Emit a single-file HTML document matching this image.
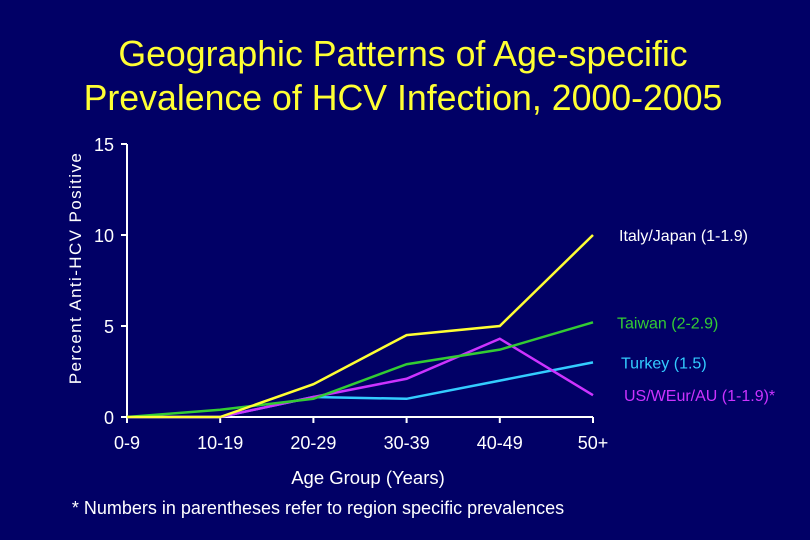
<!DOCTYPE html>
<html><head><meta charset="utf-8"><style>
html,body{margin:0;padding:0;background:#010066;}
svg{display:block;font-family:"Liberation Sans",sans-serif;}
</style></head><body>
<svg width="810" height="540">
<rect width="810" height="540" fill="#010066"/>
<text x="403" y="66" fill="#ffff33" font-size="35.7" text-anchor="middle">Geographic Patterns of Age-specific</text>
<text x="403" y="110" fill="#ffff33" font-size="35.7" text-anchor="middle">Prevalence of HCV Infection, 2000-2005</text>
<text transform="translate(81,268) rotate(-90)" fill="#fff" font-size="17" letter-spacing="1.4" text-anchor="middle">Percent Anti-HCV Positive</text>
<text x="368" y="484" fill="#fff" font-size="18.5" text-anchor="middle">Age Group (Years)</text>
<text x="318" y="514" fill="#fff" font-size="18" text-anchor="middle">* Numbers in parentheses refer to region specific prevalences</text>
<g id="axes"></g><g id="series"></g><g id="labels"></g>
</svg>
<script>
const categories=["0-9","10-19","20-29","30-39","40-49","50+"];
const yTicks=[0,5,10,15];
const italy=[0,0,1.8,4.5,5,10];
const taiwan=[0,0.4,1,2.9,3.7,5.2];
const turkey=[0,0,1.1,1,2,3];
const usweur=[0,0,1.1,2.1,4.3,1.2];
const seriesNames=["Italy/Japan (1-1.9)","Taiwan (2-2.9)","Turkey (1.5)","US/WEur/AU (1-1.9)*"];
const NS="http://www.w3.org/2000/svg";
const x0=127,x1=593,y0=417,y1=144;
function xs(i){return x0+(x1-x0)*i/(categories.length-1);}
function ys(v){return y0-(y0-y1)*v/15;}
function mk(tag,attrs,parent){const e=document.createElementNS(NS,tag);for(const k in attrs)e.setAttribute(k,attrs[k]);parent.appendChild(e);return e;}
const ax=document.getElementById('axes');
let l=mk('line',{x1:x0,y1:y1,x2:x0,y2:y0,stroke:'#fff','stroke-width':2},ax);


l=mk('line',{x1:x0,y1:y0,x2:x1,y2:y0,stroke:'#fff','stroke-width':2},ax);


yTicks.forEach(v=>{
 const t=mk('line',{x1:x0-6,y1:ys(v),x2:x0,y2:ys(v),stroke:'#fff','stroke-width':2},ax);
 
 
 const tx=mk('text',{x:x0-13,y:ys(v)+7,fill:'#fff','font-size':18,'text-anchor':'end'},ax);tx.textContent=v;
 
 
});
categories.forEach((c,i)=>{
 const t=mk('line',{x1:xs(i),y1:y0,x2:xs(i),y2:y0+6,stroke:'#fff','stroke-width':2},ax);
 
 
 const tx=mk('text',{x:xs(i),y:y0+32,fill:'#fff','font-size':18,'text-anchor':'middle'},ax);tx.textContent=c;
 
 
});
const data=[turkey,usweur,taiwan,italy];
const colors=["#33ccff","#cc33ff","#33cc33","#ffff33"];
const names=["series-turkey","series-us-weur-au","series-taiwan","series-italy-japan"];
const sg=document.getElementById('series');
data.forEach((d,k)=>{
 const p=mk('polyline',{points:d.map((v,i)=>xs(i)+','+ys(v)).join(' '),fill:'none',stroke:colors[k],'stroke-width':2.5},sg);
 
 
});
const lab=document.getElementById('labels');
const ldata=[italy,taiwan,turkey,usweur];
const lcol=["#ffffff","#33cc33","#33ccff","#cc33ff"];
const ldx=[26,24,28,31];
ldata.forEach((d,k)=>{
 const tx=mk('text',{x:x1+ldx[k],y:ys(d[5])+6,fill:lcol[k],'font-size':16},lab);tx.textContent=seriesNames[k];
 
 
});
</script>
</body></html>
